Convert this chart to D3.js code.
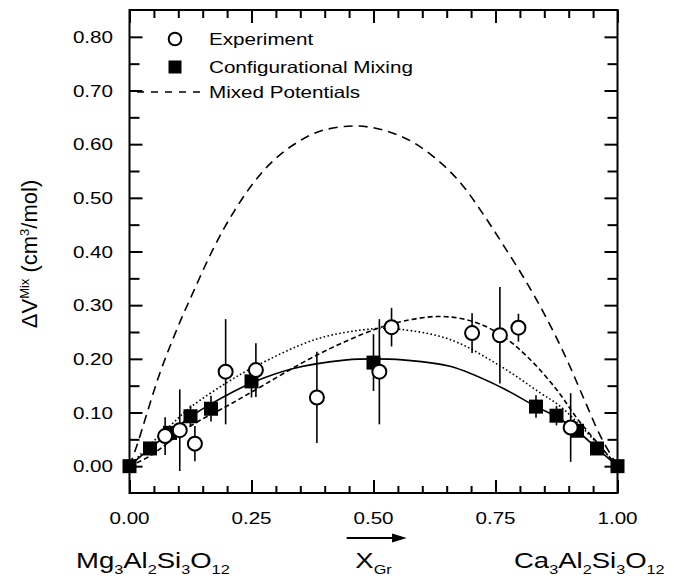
<!DOCTYPE html>
<html>
<head>
<meta charset="utf-8">
<script src="https://cdn.jsdelivr.net/npm/d3@7.9.0/dist/d3.min.js"></script>
<style>
  body { margin: 0; background: #fff; }
  text { font-family: "Liberation Sans", Arial, Helvetica, sans-serif; fill: #000; }
</style>
</head>
<body>
<div id="chart"></div>
<script>
const width = 674;
const height = 579;
const sx = 1.25; // the scanned figure is stretched sideways

// Experiment (open circles)
const expX = [0.073, 0.103, 0.134, 0.197, 0.259, 0.384, 0.512, 0.537, 0.702, 0.759, 0.797, 0.904];
const expY = [0.056, 0.067, 0.042, 0.176, 0.179, 0.128, 0.176, 0.259, 0.248, 0.244, 0.258, 0.072];
const expErr = [0.035, 0.076, 0.033, 0.098, 0.050, 0.085, 0.098, 0.036, 0.037, 0.090, 0.026, 0.064];

// Configurational mixing (filled squares)
const cfgX = [0, 0.042, 0.083, 0.125, 0.167, 0.25, 0.5, 0.833, 0.875, 0.917, 0.958, 1];
const cfgY = [0, 0.033, 0.062, 0.093, 0.107, 0.158, 0.193, 0.111, 0.094, 0.066, 0.033, 0];
const cfgErr = [0, 0, 0.012, 0.020, 0.024, 0.030, 0.053, 0.021, 0.018, 0.010, 0, 0];

// solid fit through the squares
const solidX = [0, 0.042, 0.083, 0.125, 0.167, 0.25, 0.336, 0.445, 0.5, 0.56, 0.657, 0.759, 0.833, 0.875, 0.917, 0.958, 1];
const solidY = [0, 0.033, 0.063, 0.092, 0.116, 0.155, 0.182, 0.198, 0.200, 0.198, 0.186, 0.148, 0.111, 0.092, 0.066, 0.033, 0];

// dotted fit
const dotX = [0, 0.042, 0.083, 0.124, 0.2, 0.26, 0.384, 0.5, 0.554, 0.657, 0.759, 0.841, 0.882, 0.937, 1];
const dotY = [0, 0.040, 0.075, 0.109, 0.156, 0.187, 0.237, 0.256, 0.255, 0.236, 0.187, 0.137, 0.112, 0.063, 0];

// short dashed fit
const dashX = [0, 0.042, 0.125, 0.2, 0.25, 0.384, 0.5, 0.56, 0.636, 0.702, 0.759, 0.814, 0.875, 0.918, 0.964, 1];
const dashY = [0, 0.019, 0.075, 0.112, 0.138, 0.207, 0.254, 0.270, 0.279, 0.270, 0.246, 0.205, 0.143, 0.088, 0.038, 0];

// Mixed Potentials (long dashes)
const mixX = [0, 0.015, 0.0625, 0.103, 0.124, 0.17, 0.209, 0.255, 0.291, 0.333, 0.39, 0.461, 0.525, 0.582, 0.638, 0.681, 0.723, 0.766, 0.814, 0.855, 0.896, 0.93, 0.964, 0.992, 1];
const mixY = [0, 0.038, 0.174, 0.268, 0.311, 0.402, 0.467, 0.529, 0.566, 0.597, 0.624, 0.634, 0.625, 0.603, 0.565, 0.525, 0.472, 0.412, 0.342, 0.275, 0.199, 0.128, 0.058, 0.012, 0];

const xMajor = [0, 0.25, 0.5, 0.75, 1];
const xMinor = [0.05, 0.1, 0.15, 0.2, 0.3, 0.35, 0.4, 0.45, 0.55, 0.6, 0.65, 0.7, 0.8, 0.85, 0.9, 0.95];
const yMajor = [0, 0.1, 0.2, 0.3, 0.4, 0.5, 0.6, 0.7, 0.8];
const yMinor = [0.05, 0.15, 0.25, 0.35, 0.45, 0.55, 0.65, 0.75];

const x = d3.scaleLinear().domain([0, 1]).range([129.5, 617.5]);
const y = d3.scaleLinear().domain([-0.05, 0.85]).range([493, 10]);

const svg = d3.select("#chart").append("svg")
  .attr("width", width)
  .attr("height", height);

svg.append("rect").attr("width", width).attr("height", height).attr("fill", "#fff");

function rich(px, py, anchor, size, parts, rot, stretch = sx) {
  const t = svg.append("text")
    .attr("transform", `translate(${px},${py}) scale(${stretch},1)` + (rot ? " rotate(-90)" : ""))
    .attr("text-anchor", anchor)
    .attr("font-size", size);
  let shift = 0;
  parts.forEach(([s, kind]) => {
    const target = kind === "sub" ? 6 : kind === "sup" ? -8 : 0;
    t.append("tspan")
      .attr("dy", target - shift)
      .attr("font-size", kind ? Math.round(size * 0.6) : size)
      .text(s);
    shift = target;
  });
  return t;
}

// ticks (inward on all four sides)
function ticks(axis, tf) {
  const g = svg.append("g").attr("transform", tf).call(axis);
  g.select(".domain").remove();
  g.selectAll("line").attr("stroke", "#000").attr("stroke-width", 2);
  g.selectAll("text").remove();
}
ticks(d3.axisBottom(x).tickValues(xMajor).tickSize(-13), `translate(0,${y(-0.05)})`);
ticks(d3.axisBottom(x).tickValues(xMinor).tickSize(-7), `translate(0,${y(-0.05)})`);
ticks(d3.axisTop(x).tickValues(xMajor).tickSize(-13), `translate(0,${y(0.85)})`);
ticks(d3.axisTop(x).tickValues(xMinor).tickSize(-8), `translate(0,${y(0.85)})`);
ticks(d3.axisLeft(y).tickValues(yMajor).tickSize(-13), `translate(${x(0)},0)`);
ticks(d3.axisLeft(y).tickValues(yMinor).tickSize(-10), `translate(${x(0)},0)`);
ticks(d3.axisRight(y).tickValues(yMajor).tickSize(-13), `translate(${x(1)},0)`);
ticks(d3.axisRight(y).tickValues(yMinor).tickSize(-10), `translate(${x(1)},0)`);

svg.append("rect")
  .attr("x", x(0)).attr("y", y(0.85))
  .attr("width", x(1) - x(0)).attr("height", y(-0.05) - y(0.85))
  .attr("fill", "none").attr("stroke", "#000").attr("stroke-width", 2);

// tick labels
yMajor.forEach(v => rich(113, y(v) + 6, "end", 16.5, [[v.toFixed(2)]]));
xMajor.forEach(v => rich(x(v), 524, "middle", 16.5, [[v.toFixed(2)]]));

// curves
const line = d3.line().x(d => x(d[0])).y(d => y(d[1])).curve(d3.curveCatmullRom.alpha(0.5));
function curve(xs, ys, dash) {
  svg.append("path")
    .datum(xs.map((v, i) => [v, ys[i]]))
    .attr("d", line)
    .attr("fill", "none")
    .attr("stroke", "#000")
    .attr("stroke-width", 1.6)
    .attr("stroke-dasharray", dash);
}
curve(mixX, mixY, "9,6");
curve(dashX, dashY, "5,3");
curve(dotX, dotY, "1.6,2.4");
curve(solidX, solidY, null);

// error bars
function bars(xs, ys, es) {
  svg.append("g").selectAll("line")
    .data(xs.map((v, i) => [v, ys[i], es[i]]).filter(d => d[2] > 0))
    .join("line")
    .attr("x1", d => x(d[0])).attr("x2", d => x(d[0]))
    .attr("y1", d => y(d[1] - d[2])).attr("y2", d => y(d[1] + d[2]))
    .attr("stroke", "#000").attr("stroke-width", 1.6);
}
bars(cfgX, cfgY, cfgErr);
bars(expX, expY, expErr);

svg.append("g").selectAll("rect")
  .data(cfgX.map((v, i) => [v, cfgY[i]]))
  .join("rect")
  .attr("x", d => x(d[0]) - 7).attr("y", d => y(d[1]) - 7)
  .attr("width", 14).attr("height", 14)
  .attr("fill", "#000");

svg.append("g").selectAll("circle")
  .data(expX.map((v, i) => [v, expY[i]]))
  .join("circle")
  .attr("cx", d => x(d[0])).attr("cy", d => y(d[1]))
  .attr("r", 7)
  .attr("fill", "#fff").attr("stroke", "#000").attr("stroke-width", 2);

// legend
svg.append("circle").attr("cx", 175).attr("cy", 39).attr("r", 6.3)
  .attr("fill", "#fff").attr("stroke", "#000").attr("stroke-width", 2);
svg.append("rect").attr("x", 168.5).attr("y", 60.5).attr("width", 13).attr("height", 13).attr("fill", "#000");
svg.append("line").attr("x1", 137).attr("x2", 207).attr("y1", 92).attr("y2", 92)
  .attr("stroke", "#000").attr("stroke-width", 1.6).attr("stroke-dasharray", "7,7");
rich(209, 45, "start", 16.5, [["Experiment"]]);
rich(209, 73, "start", 16.5, [["Configurational Mixing"]]);
rich(209, 98, "start", 16.5, [["Mixed Potentials"]]);

// axis titles
rich(37, 254, "middle", 22, [["\u0394V"], ["Mix", "sup"], [" (cm"], ["3", "sup"], ["/mol)"]], true, 1);

rich(76, 568, "start", 22, [["Mg"], ["3", "sub"], ["Al"], ["2", "sub"], ["Si"], ["3", "sub"], ["O"], ["12", "sub"]]);
rich(514, 568, "start", 22, [["Ca"], ["3", "sub"], ["Al"], ["2", "sub"], ["Si"], ["3", "sub"], ["O"], ["12", "sub"]]);
rich(x(0.5), 568, "middle", 22, [["X"], ["Gr", "sub"]]);

// arrow under the axis
svg.append("line")
  .attr("x1", x(0.445)).attr("x2", x(0.545)).attr("y1", 538).attr("y2", 538)
  .attr("stroke", "#000").attr("stroke-width", 2);
svg.append("path")
  .attr("d", `M${x(0.568)},538 L${x(0.538)},533.5 L${x(0.538)},542.5 Z`)
  .attr("fill", "#000");
</script>
</body>
</html>
